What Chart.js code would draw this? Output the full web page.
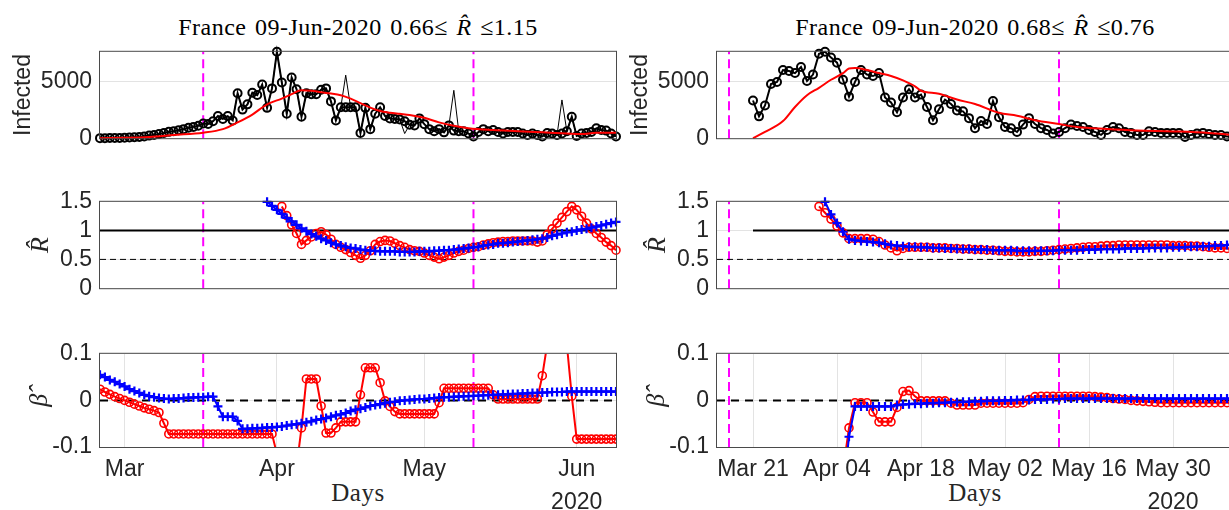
<!DOCTYPE html>
<html>
<head>
<meta charset="utf-8">
<script src="https://cdn.jsdelivr.net/npm/chart.js@4.4.0/dist/chart.umd.min.js"></script>
<style>
html, body { margin: 0; padding: 0; background: #fff; }
body { width: 1229px; height: 510px; position: relative; overflow: hidden; }
canvas { position: absolute; }
.ttl { position: absolute; font-family: "Liberation Serif", serif; font-size: 24px; line-height: 28px; letter-spacing: 0.5px; word-spacing: 2px; color: #000; white-space: nowrap; transform: translateX(-50%); }
.days { position: absolute; font-family: "Liberation Serif", serif; font-size: 25px; line-height: 28px; letter-spacing: 0.5px; color: #262626; white-space: nowrap; transform: translateX(-50%); }
</style>
</head>
<body>
<div class="ttl" style="left:358px;top:13px">France 09-Jun-2020 0.66&le; <i>R&#770;</i> &le;1.15</div>
<div class="ttl" style="left:975px;top:13px">France 09-Jun-2020 0.68&le; <i>R&#770;</i> &le;0.76</div>
<div class="days" style="left:358px;top:479px">Days</div>
<div class="days" style="left:975px;top:479px">Days</div>

<canvas id="infL" width="630" height="130" style="left:0;top:30px"></canvas>
<canvas id="rL" width="630" height="130" style="left:0;top:180px"></canvas>
<canvas id="betaL" width="630" height="178" style="left:0;top:332px"></canvas>
<canvas id="infR" width="630" height="130" style="left:617px;top:30px"></canvas>
<canvas id="rR" width="630" height="130" style="left:617px;top:180px"></canvas>
<canvas id="betaR" width="630" height="178" style="left:617px;top:332px"></canvas>

<script>
// ===== Axes (day 0 = 25-Feb-2020) =====
const magentaDays = [21, 76];

const leftTickDays = [5, 36, 66, 97];
const leftTickLabels = ["Mar", "Apr", "May", ["Jun", "2020"]];
const rightTickDays = [25, 39, 53, 67, 81, 95];
const rightTickLabels = ["Mar 21", "Apr 04", "Apr 18", "May 02", "May 16", ["May 30", "2020"]];

const infectedTicks = [0, 5000];
const rTicks = [0, 0.5, 1, 1.5];
const betaTicks = [-0.1, 0, 0.1];

// ===== Left column =====
const leftCasesStart = 0;
const leftCases = [5,5,10,15,20,40,60,80,100,150,
  230,280,370,460,560,620,700,800,920,1000,
  1100,1300,1250,1500,1960,1700,1950,1570,3970,2525,
  2990,4020,3810,4740,2680,4400,7630,4920,2160,5360,
  4330,1900,3970,3890,3890,4280,4400,3250,1570,2730,
  2730,2730,2730,460,2680,800,2160,2730,1960,1750,
  1700,1650,1500,1185,1130,1750,1240,800,620,800,
  515,1130,670,620,620,410,155,540,800,620,
  720,540,410,540,540,540,410,280,410,280,
  155,460,410,280,410,620,1900,200,410,460,
  540,875,720,670,410,155];
const leftRawCases = [5,5,10,15,20,40,60,80,100,150,
  230,280,370,460,560,620,700,800,920,1000,
  1100,1300,1250,1500,1960,1700,1950,1570,3970,2525,
  2990,4020,3810,4740,2680,4400,7630,4920,2160,5360,
  4330,1900,3970,3890,3890,4280,4400,3250,1570,2730,
  5570,2730,2730,460,2680,800,2160,2730,1960,1750,
  1700,1650,410,1185,1130,1750,1240,800,620,800,
  515,1130,4230,620,620,410,155,540,800,620,
  720,540,410,540,540,540,410,280,410,280,
  155,460,410,280,3380,620,1900,200,410,460,
  540,875,720,670,410,155];
const leftFitDays = [0,5,10,15,21,25,28,31,34,37,39,41,43,45,47,49,51,53,55,57,59,61,63,66,69,72,75,80,85,90,95,98,101,105];
const leftFitCases = [0,30,100,280,490,800,1390,2090,2990,3500,3890,4230,4200,4050,3950,3800,3500,3100,2700,2400,2250,2150,2050,1800,1400,1100,880,720,620,515,410,360,490,480];

const leftRBlueStart = 34;
const leftRBlue = [1.50,1.43,1.36,1.29,1.22,1.16,1.10,1.04,0.99,0.94,
  0.90,0.86,0.83,0.79,0.76,0.74,0.72,0.70,0.69,0.67,
  0.66,0.65,0.65,0.64,0.64,0.64,0.64,0.63,0.63,0.63,
  0.63,0.64,0.64,0.64,0.65,0.65,0.66,0.66,0.67,0.68,
  0.69,0.70,0.71,0.72,0.74,0.75,0.76,0.78,0.78,0.79,
  0.80,0.81,0.82,0.83,0.84,0.85,0.86,0.88,0.91,0.93,
  0.95,0.97,0.98,1.00,1.02,1.03,1.05,1.07,1.09,1.11,
  1.13,1.15];
const leftRRedStart = 37;
const leftRRed = [1.42,1.26,1.10,0.95,0.76,0.83,0.89,0.95,0.98,0.93,
  0.85,0.76,0.71,0.67,0.62,0.57,0.52,0.57,0.65,0.76,
  0.81,0.83,0.82,0.78,0.74,0.71,0.67,0.65,0.64,0.61,
  0.57,0.54,0.51,0.54,0.57,0.61,0.64,0.66,0.69,0.71,
  0.72,0.75,0.77,0.79,0.80,0.81,0.81,0.82,0.82,0.82,
  0.82,0.82,0.80,0.82,0.93,1.03,1.13,1.23,1.33,1.42,
  1.36,1.25,1.13,1.03,0.95,0.88,0.80,0.74,0.66];

const leftBetaStart = 0;
const leftBetaBlue = [0.055,0.050,0.044,0.040,0.035,0.030,0.024,0.020,0.016,0.012,
  0.009,0.007,0.005,0.004,0.003,0.004,0.004,0.005,0.006,0.006,
  0.007,0.007,0.008,0.008,-0.013,-0.035,-0.035,-0.035,-0.044,-0.061,
  -0.061,-0.060,-0.060,-0.059,-0.058,-0.058,-0.057,-0.056,-0.054,-0.052,
  -0.051,-0.049,-0.047,-0.045,-0.042,-0.040,-0.038,-0.035,-0.032,-0.030,
  -0.027,-0.023,-0.020,-0.018,-0.015,-0.012,-0.010,-0.008,-0.006,-0.004,
  -0.003,-0.001,0.000,0.001,0.002,0.003,0.003,0.004,0.005,0.006,
  0.007,0.007,0.008,0.008,0.009,0.009,0.010,0.010,0.011,0.011,
  0.012,0.012,0.013,0.013,0.014,0.014,0.015,0.015,0.016,0.016,
  0.017,0.017,0.018,0.018,0.018,0.019,0.019,0.019,0.019,0.019,
  0.019,0.019,0.019,0.019,0.019,0.019];
const leftBetaRed = [0.024,0.018,0.013,0.008,0.004,0.000,-0.004,-0.008,-0.012,-0.016,
  -0.019,-0.022,-0.026,-0.049,-0.072,-0.072,-0.072,-0.072,-0.072,-0.072,
  -0.072,-0.072,-0.072,-0.072,-0.072,-0.072,-0.072,-0.072,-0.072,-0.072,
  -0.072,-0.072,-0.072,-0.072,-0.072,-0.072,-0.115,-0.2,-0.25,-0.2,
  -0.143,-0.059,0.046,0.046,0.046,-0.012,-0.070,-0.070,-0.059,-0.046,
  -0.046,-0.046,-0.046,0.012,0.070,0.070,0.070,0.038,-0.001,-0.013,
  -0.024,-0.029,-0.029,-0.029,-0.029,-0.029,-0.029,-0.029,-0.029,-0.005,
  0.026,0.026,0.026,0.026,0.026,0.026,0.026,0.026,0.026,0.026,
  0.012,0.003,0.003,0.003,0.003,0.003,0.003,0.003,0.003,0.003,
  0.053,0.12,0.2,0.25,0.2,0.12,0.009,-0.083,-0.083,-0.083,
  -0.083,-0.083,-0.083,-0.083,-0.083,-0.083];

// ===== Right column =====
const rightCasesStart = 25;
const rightCases = [3330,1930,2890,4790,4970,6020,5940,5750,6280,5050,
  5620,7450,7630,7130,6670,5160,3670,4970,6020,5620,
  5490,5750,3590,3150,2290,3590,4320,3590,3850,2760,
  1590,2550,3410,3020,2450,2370,1770,885,1510,1250,
  3280,1850,990,885,550,1200,1770,1250,885,730,
  420,550,885,1200,1070,990,730,550,290,730,
  990,885,550,470,290,290,620,550,470,470,
  470,470,100,290,420,470,360,290,290,155,
  155];
const rightFitDays = [25,27,30,32,34,36,38,40,41,42,44,46,48,50,52,53,56,59,62,66,69,72,76,79,84,89,95,101,105];
const rightFitCases = [0,550,1510,2760,3800,4450,5160,5750,6150,6200,6020,5750,5490,5100,4580,4190,3930,3410,3020,2240,1980,1590,1250,990,810,680,600,470,290];

const rightRBlueStart = 37;
const rightRBlue = [1.50,1.28,1.13,0.98,0.85,0.83,0.82,0.81,0.80,0.79,
  0.77,0.75,0.74,0.73,0.72,0.72,0.71,0.71,0.70,0.70,
  0.69,0.69,0.68,0.68,0.68,0.67,0.67,0.67,0.66,0.66,
  0.66,0.66,0.65,0.65,0.65,0.65,0.65,0.65,0.65,0.66,
  0.66,0.66,0.66,0.67,0.67,0.67,0.68,0.68,0.68,0.68,
  0.69,0.69,0.69,0.69,0.70,0.70,0.70,0.70,0.71,0.71,
  0.71,0.72,0.72,0.73,0.73,0.74,0.74,0.75,0.76];
const rightRRedStart = 36;
const rightRRed = [1.42,1.31,1.20,1.08,0.96,0.86,0.86,0.86,0.86,0.85,
  0.81,0.75,0.70,0.65,0.69,0.71,0.71,0.71,0.71,0.70,
  0.70,0.70,0.69,0.69,0.68,0.68,0.67,0.67,0.66,0.66,
  0.65,0.64,0.64,0.63,0.63,0.63,0.64,0.64,0.65,0.66,
  0.67,0.68,0.69,0.70,0.71,0.72,0.72,0.73,0.74,0.74,
  0.75,0.75,0.75,0.75,0.75,0.75,0.75,0.75,0.75,0.74,
  0.74,0.74,0.73,0.73,0.72,0.71,0.70,0.70,0.69,0.68];

const rightBetaStart = 40;
const rightBetaBlue = [-0.2,-0.078,-0.013,-0.013,-0.013,-0.013,-0.013,-0.013,-0.013,-0.010,
  -0.009,-0.008,-0.007,-0.007,-0.006,-0.006,-0.005,-0.005,-0.004,-0.004,
  -0.003,-0.003,-0.002,-0.002,-0.001,-0.001,-0.001,0.000,0.000,0.001,
  0.001,0.001,0.002,0.002,0.002,0.003,0.003,0.004,0.004,0.004,
  0.004,0.004,0.004,0.004,0.004,0.004,0.004,0.004,0.004,0.004,
  0.004,0.004,0.004,0.004,0.004,0.004,0.004,0.004,0.004,0.004,
  0.004,0.004,0.004,0.004,0.004,0.004];
const rightBetaRed = [-0.15,-0.059,-0.005,-0.005,-0.005,-0.025,-0.046,-0.046,-0.046,-0.015,
  0.019,0.021,0.009,-0.001,-0.001,-0.001,-0.001,-0.001,-0.006,-0.010,
  -0.010,-0.010,-0.010,-0.006,-0.006,-0.006,-0.006,-0.006,-0.006,-0.006,
  -0.005,0.002,0.008,0.009,0.009,0.009,0.009,0.009,0.009,0.009,
  0.009,0.009,0.008,0.007,0.006,0.004,0.003,0.002,0.000,-0.001,
  -0.002,-0.003,-0.004,-0.005,-0.005,-0.005,-0.005,-0.005,-0.005,-0.005,
  -0.005,-0.005,-0.005,-0.005,-0.005,-0.005];

// ===== Helpers =====
const tickGray = "#262626";
const gridGray = "#e3e3e3";
Chart.defaults.font.family = "'Liberation Sans', Arial, sans-serif";

const series = (start, arr) => arr.map((v, i) => ({ x: start + i, y: v }));
const pairs = (xs, ys) => xs.map((x, i) => ({ x: x, y: ys[i] }));
const hline = (x0, x1, y) => [{ x: x0, y: y }, { x: x1, y: y }];

function magenta(y0, y1) {
  return magentaDays.map(d => ({
    data: [{ x: d, y: y0 }, { x: d, y: y1 }],
    borderColor: "#ff00ff", borderWidth: 2, borderDash: [9, 5], pointRadius: 0, order: 9
  }));
}
const circles = (data, color, order, bw) => ({
  data, borderColor: color, borderWidth: 2, pointStyle: "circle", pointRadius: 4,
  pointBorderWidth: bw, pointBorderColor: color, pointBackgroundColor: "rgba(0,0,0,0)", order
});
const crosses = (data, order) => ({
  data, borderColor: "#0000ff", borderWidth: 2, pointStyle: "cross", pointRadius: 4.5,
  pointBorderWidth: 2.2, pointBorderColor: "#0000ff", order
});

const boxPlugin = {
  id: "box",
  afterDatasetsDraw(chart) {
    const a = chart.chartArea, c = chart.ctx;
    c.save();
    c.strokeStyle = "#4a4a4a";
    c.lineWidth = 1;
    c.strokeRect(a.left - 0.5, a.top - 0.5, a.right - a.left + 1, a.bottom - a.top + 1);
    c.restore();
  }
};

function makePanel(id, p) {
  return new Chart(document.getElementById(id), {
    type: "line",
    data: { datasets: p.datasets.map(d => Object.assign({ clip: p.clip }, d)) },
    options: {
      responsive: false,
      animation: false,
      layout: { padding: { top: 17, right: 14, bottom: p.xTicks ? 0 : 14, left: 0 } },
      plugins: { legend: { display: false }, tooltip: { enabled: false } },
      elements: { line: { tension: 0 } },
      scales: {
        x: {
          type: "linear", min: p.xMin, max: p.xMax,
          display: !!p.xTicks,
          afterBuildTicks: s => { if (p.xTicks) s.ticks = p.xTicks.map(v => ({ value: v })); },
          afterFit: s => { if (p.xTicks) s.height = 63; },
          grid: { color: gridGray, drawTicks: false },
          border: { display: false },
          ticks: {
            autoSkip: false, maxRotation: 0, padding: 7, color: tickGray,
            font: { size: 23, lineHeight: 1.4 },
            callback: (v, i) => p.xLabels ? p.xLabels[i] : ""
          }
        },
        y: {
          min: p.yMin, max: p.yMax,
          afterBuildTicks: s => { s.ticks = p.yTicks.map(v => ({ value: v })); },
          afterFit: s => { s.width = 100; },
          grid: { color: gridGray, drawTicks: false },
          border: { display: false },
          ticks: { padding: 8, color: tickGray, font: { size: 23 }, callback: v => String(v) },
          title: {
            display: true, text: p.yTitle, color: tickGray, font: p.yTitleFont,
            padding: { top: p.yTitlePad, bottom: 0 }
          }
        }
      }
    },
    plugins: [boxPlugin]
  });
}

const infTitleFont = { family: "'Liberation Sans', Arial, sans-serif", size: 23 };
const mathTitleFont = { family: "'Liberation Serif', serif", size: 26, style: "italic" };

// ===== Left column =====
makePanel("infL", {
  xMin: 0, xMax: 105, yMin: 0, yMax: 7630, yTicks: infectedTicks, clip: false,
  yTitle: "Infected", yTitleFont: infTitleFont, yTitlePad: 10,
  datasets: [
    ...magenta(0, 7630),
    { data: series(leftCasesStart, leftRawCases), borderColor: "#000", borderWidth: 1, pointRadius: 0, order: 3 },
    circles(series(leftCasesStart, leftCases), "#000", 2, 2),
    { data: pairs(leftFitDays, leftFitCases), borderColor: "#ff0000", borderWidth: 2, pointRadius: 0, cubicInterpolationMode: "monotone", order: 1 }
  ]
});

makePanel("rL", {
  xMin: 0, xMax: 105, yMin: 0, yMax: 1.5, yTicks: rTicks, clip: false,
  yTitle: "R\u0302", yTitleFont: mathTitleFont, yTitlePad: 26,
  datasets: [
    ...magenta(0, 1.5),
    { data: hline(0, 105, 1), borderColor: "#000", borderWidth: 2, pointRadius: 0, order: 5 },
    { data: hline(0, 105, 0.5), borderColor: "#000", borderWidth: 1, borderDash: [6, 4], pointRadius: 0, order: 5 },
    circles(series(leftRRedStart, leftRRed), "#ff0000", 2, 1.6),
    crosses(series(leftRBlueStart, leftRBlue), 1)
  ]
});

makePanel("betaL", {
  xMin: 0, xMax: 105, yMin: -0.1, yMax: 0.1, yTicks: betaTicks, clip: undefined,
  xTicks: leftTickDays, xLabels: leftTickLabels,
  yTitle: "\u03B2\u0302", yTitleFont: mathTitleFont, yTitlePad: 25,
  datasets: [
    ...magenta(-0.1, 0.1),
    { data: hline(0, 105, 0), borderColor: "#000", borderWidth: 2, borderDash: [8, 6], pointRadius: 0, order: 5 },
    circles(series(leftBetaStart, leftBetaRed), "#ff0000", 2, 1.6),
    crosses(series(leftBetaStart, leftBetaBlue), 1)
  ]
});

// ===== Right column =====
makePanel("infR", {
  xMin: 19, xMax: 105, yMin: 0, yMax: 7630, yTicks: infectedTicks, clip: false,
  yTitle: "Infected", yTitleFont: infTitleFont, yTitlePad: 10,
  datasets: [
    ...magenta(0, 7630),
    circles(series(rightCasesStart, rightCases), "#000", 2, 2),
    { data: pairs(rightFitDays, rightFitCases), borderColor: "#ff0000", borderWidth: 2, pointRadius: 0, cubicInterpolationMode: "monotone", order: 1 }
  ]
});

makePanel("rR", {
  xMin: 19, xMax: 105, yMin: 0, yMax: 1.5, yTicks: rTicks, clip: false,
  yTitle: "R\u0302", yTitleFont: mathTitleFont, yTitlePad: 26,
  datasets: [
    ...magenta(0, 1.5),
    { data: hline(25, 105, 1), borderColor: "#000", borderWidth: 2, pointRadius: 0, order: 5 },
    { data: hline(19, 105, 0.5), borderColor: "#000", borderWidth: 1, borderDash: [6, 4], pointRadius: 0, order: 5 },
    circles(series(rightRRedStart, rightRRed), "#ff0000", 2, 1.6),
    crosses(series(rightRBlueStart, rightRBlue), 1)
  ]
});

makePanel("betaR", {
  xMin: 19, xMax: 105, yMin: -0.1, yMax: 0.1, yTicks: betaTicks, clip: undefined,
  xTicks: rightTickDays, xLabels: rightTickLabels,
  yTitle: "\u03B2\u0302", yTitleFont: mathTitleFont, yTitlePad: 25,
  datasets: [
    ...magenta(-0.1, 0.1),
    { data: hline(19, 105, 0), borderColor: "#000", borderWidth: 2, borderDash: [8, 6], pointRadius: 0, order: 5 },
    circles(series(rightBetaStart, rightBetaRed), "#ff0000", 2, 1.6),
    crosses(series(rightBetaStart, rightBetaBlue), 1)
  ]
});
</script>
</body>
</html>
